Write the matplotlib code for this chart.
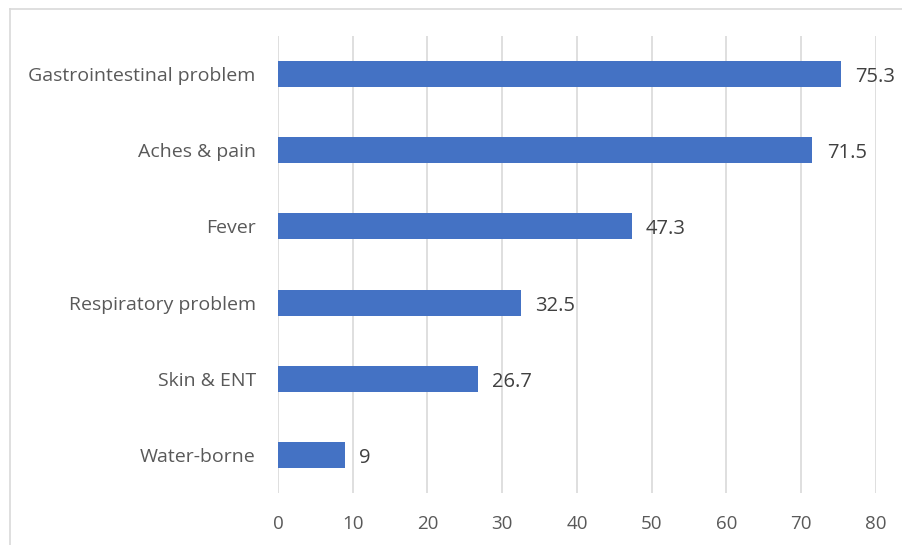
import matplotlib
matplotlib.use("Agg")
import matplotlib.pyplot as plt
from matplotlib.lines import Line2D

categories = ["Gastrointestinal problem", "Aches & pain", "Fever",
              "Respiratory problem", "Skin & ENT", "Water-borne"]
values = [75.3, 71.5, 47.3, 32.5, 26.7, 9]
value_labels = ["75.3", "71.5", "47.3", "32.5", "26.7", "9"]
xticks = [0, 10, 20, 30, 40, 50, 60, 70, 80]

plt.rcParams['font.family'] = ['Open Sans', 'DejaVu Sans']
txt = '#595959'

fig = plt.figure(figsize=(9.03, 5.45), dpi=100)
ax = fig.add_axes([278/903, 1-493/545, (876-278)/903, (493-36)/545])

y = list(range(len(categories)))
ax.barh(y, values, height=0.34, color='#4472C4', zorder=3)
for yi, v, lab in zip(y, values, value_labels):
    ax.text(v + 1.9, yi + 0.04, lab, va='center', ha='left', fontsize=14.5, color='#404040')

ax.set_xlim(0, 80)
ax.set_ylim(len(categories) - 0.5, -0.5)
ax.set_xticks(xticks)
ax.set_xticklabels([str(t) for t in xticks])
ax.set_yticks(y)
ax.set_yticklabels(categories)
ax.tick_params(axis='x', length=0, labelsize=13.5, colors=txt, pad=16)
ax.tick_params(axis='y', length=0, labelsize=14, colors=txt, pad=16)
ax.grid(axis='x', color='#D9D9D9', linewidth=1.2, zorder=0)
for s in ax.spines.values():
    s.set_visible(False)

# outer chart border (top and left edges visible)
fig.add_artist(Line2D([10/903, 1.0], [1-9/545, 1-9/545], transform=fig.transFigure,
                      color='#D9D9D9', linewidth=1.2))
fig.add_artist(Line2D([10/903, 10/903], [1-9/545, 0], transform=fig.transFigure,
                      color='#D9D9D9', linewidth=1.2))

fig.savefig("out.png", dpi=100)
